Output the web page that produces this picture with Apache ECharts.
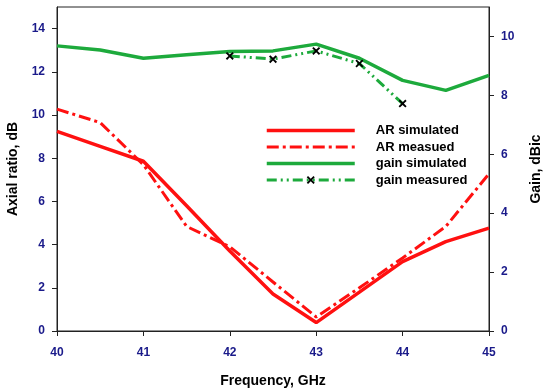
<!DOCTYPE html>
<html><head><meta charset="utf-8">
<script src="https://cdn.jsdelivr.net/npm/echarts@6/dist/echarts.min.js"></script>
<style>html,body{margin:0;padding:0;background:#fff}#c{width:550px;height:392px}</style>
</head><body><div id="c"></div>
<script>
const freq = [40, 40.5, 41, 41.5, 42, 42.5, 43, 43.5, 44, 44.5, 45];
const arSimulated = [9.24, 8.55, 7.86, 5.8, 3.7, 1.71, 0.39, 1.8, 3.21, 4.14, 4.76];
const arMeasured = [10.27, 9.65, 7.7, 4.84, 3.9, 2.27, 0.65, 2.0, 3.38, 4.84, 7.28];
const gainSimulated = [9.68, 9.54, 9.26, 9.38, 9.49, 9.51, 9.74, 9.26, 8.51, 8.17, 8.68];
const gainMeasFreq = [42, 42.5, 43, 43.5, 44];
const gainMeasured = [9.34, 9.23, 9.51, 9.08, 7.72];
const leftTicks = [0, 2, 4, 6, 8, 10, 12, 14];
const rightTicks = [0, 2, 4, 6, 8, 10];
const xTicks = [40, 41, 42, 43, 44, 45];

const pair = (xs, ys) => xs.map((x, i) => [x, ys[i]]);
const FONT = 'Arial, "Liberation Sans", sans-serif';
const NAVY = '#1a1a8a';
const RED = '#ff1010';
const GREEN = '#1daa3c';
const cross = 'path://M0,1.6L1.6,0L5,3.4L8.4,0L10,1.6L6.6,5L10,8.4L8.4,10L5,6.6L1.6,10L0,8.4L3.4,5Z';

const axisLabelStyle = { color: NAVY, fontWeight: 'bold', fontSize: 12, fontFamily: FONT };
const nameStyle = { color: '#000', fontWeight: 'bold', fontSize: 14, fontFamily: FONT };
const lineAxis = { lineStyle: { color: '#222', width: 1 } };

const chart = echarts.init(document.getElementById('c'), null, { renderer: 'canvas' });
chart.setOption({
  animation: false,
  backgroundColor: '#fff',
  grid: { left: 57, right: 61, top: 7, bottom: 61, outerBoundsMode: 'none', containLabel: false,
    show: true, borderColor: '#222', borderWidth: 1, backgroundColor: 'transparent' },
  legend: {
    left: 265, top: 124, orient: 'vertical', padding: 0,
    itemWidth: 88, itemHeight: 10, itemGap: 3.5,
    textStyle: { color: '#000', fontWeight: 'bold', fontSize: 13, fontFamily: FONT, padding: [0, 0, 0, 16] },
    data: [
      { name: 'AR simulated', itemStyle: { opacity: 0 }, lineStyle: { width: 3.5 } },
      { name: 'AR measued', itemStyle: { opacity: 0 }, lineStyle: { width: 3 } },
      { name: 'gain simulated', itemStyle: { opacity: 0 }, lineStyle: { width: 3.5 } },
      { name: 'gain measured', lineStyle: { width: 3 } }
    ]
  },
  xAxis: {
    type: 'value', min: 40, max: 45, interval: 1,
    name: 'Frequency, GHz', nameLocation: 'middle', nameGap: 43, nameTextStyle: nameStyle,
    axisLine: lineAxis, axisTick: { show: true, length: 5, lineStyle: { color: '#222' } },
    axisLabel: Object.assign({ margin: 16 }, axisLabelStyle),
    splitLine: { show: false }
  },
  yAxis: [{
    type: 'value', min: 0, max: 15, position: 'left',
    name: 'Axial ratio, dB', nameLocation: 'middle', nameRotate: 90, nameGap: 37, nameTextStyle: nameStyle,
    axisLine: Object.assign({ show: true }, lineAxis),
    axisTick: { show: true, length: 5, lineStyle: { color: '#222' }, customValues: leftTicks },
    axisLabel: Object.assign({ margin: 12, customValues: leftTicks }, axisLabelStyle),
    splitLine: { show: false }
  }, {
    type: 'value', min: 0, max: 11, position: 'right',
    name: 'Gain, dBic', nameLocation: 'middle', nameRotate: 90, nameGap: 40, nameTextStyle: nameStyle,
    axisLine: Object.assign({ show: true }, lineAxis),
    axisTick: { show: true, length: 5, lineStyle: { color: '#222' }, customValues: rightTicks },
    axisLabel: Object.assign({ margin: 12, customValues: rightTicks }, axisLabelStyle),
    splitLine: { show: false }
  }],
  series: [{
    name: 'AR simulated', type: 'line', yAxisIndex: 0, data: pair(freq, arSimulated),
    symbol: 'none', lineStyle: { color: RED, width: 3.5 }, itemStyle: { color: RED }
  }, {
    name: 'AR measued', type: 'line', yAxisIndex: 0, data: pair(freq, arMeasured),
    symbol: 'none', lineStyle: { color: RED, width: 3, type: [12, 4, 3, 4] }, itemStyle: { color: RED }
  }, {
    name: 'gain simulated', type: 'line', yAxisIndex: 1, data: pair(freq, gainSimulated),
    symbol: 'none', lineStyle: { color: GREEN, width: 3.5 }, itemStyle: { color: GREEN }
  }, {
    name: 'gain measured', type: 'line', yAxisIndex: 1, data: pair(gainMeasFreq, gainMeasured),
    symbol: cross, symbolSize: 8, showSymbol: true,
    lineStyle: { color: GREEN, width: 3, type: [10, 4, 2, 4, 2, 4] },
    itemStyle: { color: '#000' }
  }]
});
</script></body></html>
